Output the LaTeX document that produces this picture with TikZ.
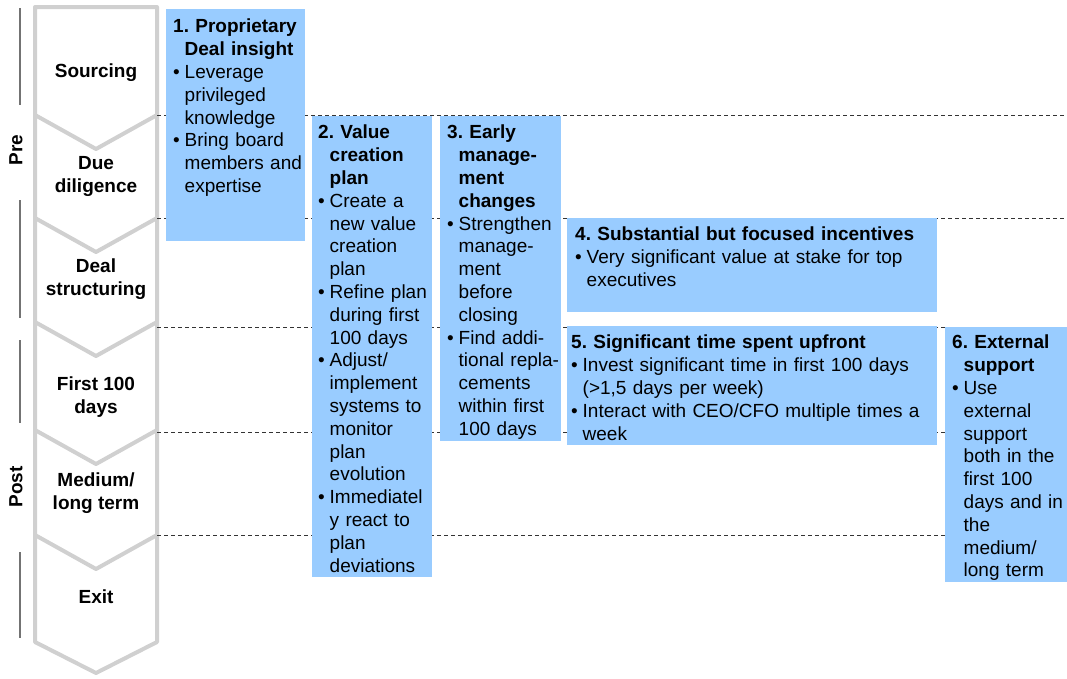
\documentclass[tikz,border=0pt]{standalone}
\usepackage{fontspec}
\setmainfont{Liberation Sans}
\definecolor{boxblue}{HTML}{99CCFF}
\definecolor{chevgray}{HTML}{D0D0D0}
\newlength{\bulwd}\setlength{\bulwd}{11.5pt}
\newcommand{\heading}[1]{\hangindent=\bulwd\hangafter=1\noindent\textbf{#1}\par}
\newcommand{\bul}[1]{\par\hangindent=\bulwd\hangafter=1\noindent\makebox[\bulwd][l]{\textbullet}#1\par}
\tikzset{
  chev/.style={draw=chevgray, line width=4pt, line join=round},
  phase/.style={draw=black!55, line width=1.5pt},
  sep/.style={draw=black!80, line width=0.9pt, dash pattern=on 4pt off 3pt},
  stage/.style={anchor=north, inner sep=0pt, align=center, font=\fontsize{19pt}{22.8pt}\selectfont\bfseries},
  txt/.style={anchor=north west, inner sep=0pt, align=left, font=\fontsize{19pt}{22.8pt}\selectfont\frenchspacing}
}
\begin{document}
\begin{tikzpicture}[x=1pt, y=-1pt]
\useasboundingbox (0,0) rectangle (1067,678);
% phases
\draw[phase] (20,8) -- (20,105);
\draw[phase] (20,200) -- (20,318);
\draw[phase] (20,340) -- (20,423);
\draw[phase] (20,552) -- (20,638);
\node[rotate=90, inner sep=0pt, font=\fontsize{19pt}{22.8pt}\selectfont\bfseries] (pre) at (16,150) {Pre};
\node[rotate=90, inner sep=0pt, font=\fontsize{19pt}{22.8pt}\selectfont\bfseries] (post) at (16,487) {Post};
% chevrons
\draw[chev] (35,7) -- (157,7) -- (157,642) -- (96,673) -- (35,642) -- cycle;
\foreach \y in {115,218,322,430,535}
  \draw[chev] (35,\y) -- (96,{\y+34}) -- (157,\y);
\node[stage] (sourcing) at (96,64) {Sourcing};
\node[stage] (duedil) at (96,156) {Due\\diligence};
\node[stage] (dealstruct) at (96,259) {Deal\\structuring};
\node[stage] (first100) at (96,377) {First 100\\days};
\node[stage] (medium) at (96,473) {Medium/\\long term};
\node[stage] (exit) at (96,590) {Exit};
% separators
\foreach \y in {115,218,327,432,535}
  \draw[sep] (157,\y) -- (1067,\y);
% levers
\fill[boxblue] (166,9) rectangle (305,241);
\fill[boxblue] (312,116) rectangle (432,577);
\fill[boxblue] (440,116) rectangle (561,441);
\fill[boxblue] (567,218) rectangle (937,312);
\fill[boxblue] (567,326) rectangle (937,445);
\fill[boxblue] (945,327) rectangle (1067,582);
\node[txt, text width=130pt] (insight) at (173,19) {\heading{1. Proprietary\newline Deal insight}\bul{Leverage\newline privileged\newline knowledge}\bul{Bring board\newline members and\newline expertise}};
\node[txt, text width=118pt] (valueplan) at (318,125) {\heading{2. Value\newline creation\newline plan}\bul{Create a\newline new value\newline creation\newline plan}\bul{Refine plan\newline during first\newline 100 days}\bul{Adjust/\newline implement\newline systems to\newline monitor\newline plan\newline evolution}\bul{Immediatel\newline y react to\newline plan\newline deviations}};
\node[txt, text width=120pt] (mgmt) at (447,125) {\heading{3. Early\newline manage-\newline ment\newline changes}\bul{Strengthen\newline manage-\newline ment\newline before\newline closing}\bul{Find addi-\newline tional repla-\newline cements\newline within first\newline 100 days}};
\node[txt, text width=360pt] (incent) at (575,227) {\heading{4. Substantial but focused incentives}\bul{Very significant value at stake for top\newline executives}};
\node[txt, text width=365pt] (upfront) at (571,335) {\heading{5. Significant time spent upfront}\bul{Invest significant time in first 100 days\newline (>1,5 days per week)}\bul{Interact with CEO/CFO multiple times a\newline week}};
\node[txt, text width=120pt] (extsup) at (952,335) {\heading{6. External\newline support}\bul{Use\newline external\newline support\newline both in the\newline first 100\newline days and in\newline the\newline medium/\newline long term}};
\end{tikzpicture}
\end{document}
